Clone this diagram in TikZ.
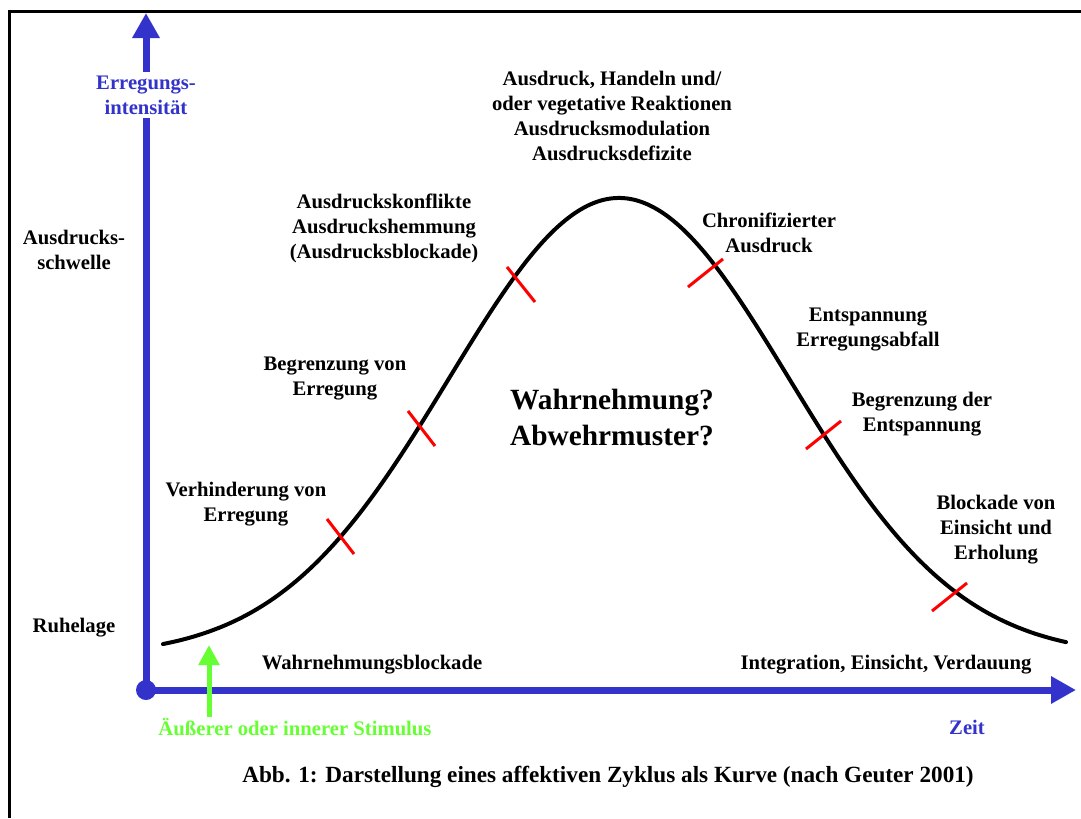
\documentclass[tikz,border=0pt]{standalone}
\usepackage{fontspec}
\setmainfont{Liberation Serif}
\usepackage{xcolor}
\usepackage{tikz}
\usetikzlibrary{arrows.meta,positioning}

\definecolor{axisblue}{RGB}{51,51,204}
\definecolor{stimgreen}{RGB}{102,255,51}

\begin{document}
\begin{tikzpicture}[x=0.75pt,y=-0.75pt,
	lbl/.style={font=\bfseries\fontsize{15.5}{18.75}\selectfont,align=center,inner sep=0pt},
	biglbl/.style={font=\bfseries\fontsize{22}{27}\selectfont,align=center,inner sep=0pt},
	axis/.style={axisblue,line width=5.25pt,-{Triangle[width=19.5pt,length=18.75pt]}},
	redtick/.style={red,line width=2.25pt}]
	\useasboundingbox (0,0) rectangle (1081,818);
	\draw[line width=2.25pt] (9.5,818) -- (9.5,11.5) -- (1081,11.5);
	% axes
	\coordinate (origin) at (146,690);
	\coordinate (ytip) at (146,13);
	\coordinate (xtip) at (1076,690);
	\draw[axis] (origin) -- (ytip);
	\draw[axis] (origin) -- (xtip);
	\fill[axisblue] (origin) circle (7.5pt);
	\node[lbl,axisblue,fill=white,inner ysep=3pt,inner xsep=1pt] (ylabel) at (146,95) {Erregungs-\\intensit\"at};
	\node[lbl,axisblue] (zeit) at (967,727) {Zeit};
	% stimulus
	\node[lbl,stimgreen] (stimulus) at (295,727) {\"Au\ss erer oder innerer Stimulus};
	\coordinate (stimbase) at (209,717);
	\coordinate (stimtip) at (209,645);
	\draw[stimgreen,line width=3.75pt,-{Triangle[width=15pt,length=15pt]}] (stimbase) -- (stimtip);
	% curve
	\draw[line width=3pt,line cap=round] plot[domain=163:1066,samples=150,smooth]
		(\x,{644-446*(exp(-0.5*((\x-619)/170)*((\x-619)/170))-0.0274)/0.9726});
	\foreach \xa/\ya/\xb/\yb in {327/519/354/554, 408/411/435/446, 507/267/535/302,
		688/287/723/259, 806/449/841/421, 932/611/967/583}
		\draw[redtick] (\xa,\ya) -- (\xb,\yb);
	% labels
	\node[lbl] (threshold) at (74,249.5) {Ausdrucks-\\schwelle};
	\node[lbl] (rest) at (74,628) {Ruhelage};
	\node[lbl] (peak) at (612,115.5) {Ausdruck, Handeln und/\\oder vegetative Reaktionen\\Ausdrucksmodulation\\Ausdrucksdefizite};
	\node[lbl] (conflict) at (384,228) {Ausdruckskonflikte\\Ausdruckshemmung\\(Ausdrucksblockade)};
	\node[lbl] (chronic) at (769,232.5) {Chronifizierter\\Ausdruck};
	\node[lbl] (relax) at (868,330) {Entspannung\\Erregungsabfall};
	\node[lbl] (limitexc) at (335,378.5) {Begrenzung von\\Erregung};
	\node[lbl] (limitrel) at (922,414.5) {Begrenzung der\\Entspannung};
	\node[lbl] (prevent) at (246,504.5) {Verhinderung von\\Erregung};
	\node[lbl] (blockins) at (996,529.5) {Blockade von\\Einsicht und\\Erholung};
	\node[lbl] (percblock) at (372,665) {Wahrnehmungsblockade};
	\node[lbl] (integr) at (886,665) {Integration, Einsicht, Verdauung};
	\node[biglbl] (question) at (612,418) {Wahrnehmung?\\Abwehrmuster?};
	\node[lbl,font=\bfseries\fontsize{17.4}{21}\selectfont] (caption) at (608,777) {Abb. 1: Darstellung eines affektiven Zyklus als Kurve (nach Geuter 2001)};
\end{tikzpicture}
\end{document}
